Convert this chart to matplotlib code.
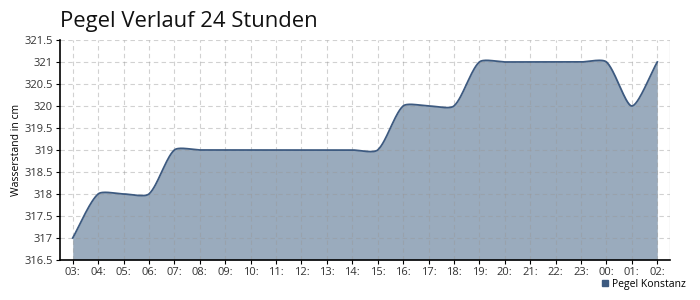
import numpy as np
import matplotlib.pyplot as plt
from matplotlib.lines import Line2D

# hourly water level, 03:00 today to 02:00 next day
hours = ['03:', '04:', '05:', '06:', '07:', '08:', '09:', '10:', '11:', '12:',
         '13:', '14:', '15:', '16:', '17:', '18:', '19:', '20:', '21:', '22:',
         '23:', '00:', '01:', '02:']
pegel = [317, 318, 318, 318, 319, 319, 319, 319, 319, 319,
         319, 319, 319, 320, 320, 320, 321, 321, 321, 321,
         321, 321, 320, 321]

line_color = '#3d5a80'
fill_color = '#9aabbd'

plt.rcParams['font.family'] = ['Open Sans', 'DejaVu Sans']


def spline_path(ax, xv, yv, tension=0.25, steps=30):
    # bezier smoothing, control points computed in pixel space
    pts = ax.transData.transform(np.column_stack([xv, yv]))
    n = len(pts)
    cp_prev = pts.copy()
    cp_next = pts.copy()
    for i in range(n):
        prev = pts[i - 1] if i > 0 else pts[i]
        nxt = pts[i + 1] if i < n - 1 else pts[i]
        d01 = np.hypot(*(pts[i] - prev))
        d12 = np.hypot(*(nxt - pts[i]))
        tot = d01 + d12
        fa = tension * d01 / tot if tot else 0
        fb = tension * d12 / tot if tot else 0
        cp_prev[i] = pts[i] - fa * (nxt - prev)
        cp_next[i] = pts[i] + fb * (nxt - prev)
    t = np.linspace(0, 1, steps, endpoint=False)[:, None]
    out = []
    for i in range(n - 1):
        p0, p1, p2, p3 = pts[i], cp_next[i], cp_prev[i + 1], pts[i + 1]
        out.append((1 - t) ** 3 * p0 + 3 * (1 - t) ** 2 * t * p1 + 3 * (1 - t) * t ** 2 * p2 + t ** 3 * p3)
    out.append(pts[-1:])
    out = ax.transData.inverted().transform(np.vstack(out))
    return out[:, 0], out[:, 1]


x = np.arange(len(hours))

fig = plt.figure(figsize=(7, 3), dpi=100)
ax = fig.add_axes([60 / 700, 40 / 300, 610 / 700, 220 / 300])
ax.set_xlim(-0.5, len(hours) - 0.5)
ax.set_ylim(316.5, 321.5)

xs, ys = spline_path(ax, x, pegel)
ax.fill_between(xs, ys, 316.5, color=fill_color, linewidth=0, zorder=2)
ax.plot(xs, ys, color=line_color, linewidth=1.3, zorder=3)

ax.set_xticks(x)
ax.set_xticklabels(hours)
yt = np.arange(316.5, 321.51, 0.5)
ax.set_yticks(yt)
ax.set_yticklabels(['%g' % v for v in yt])
ax.tick_params(labelsize=8, color='black', length=3, width=0.8, colors='#333333', pad=2)

ax.grid(True, linestyle=(0, (4, 3)), color='#999999', alpha=0.45, linewidth=0.8, zorder=4)
ax.set_axisbelow(False)
for s in ['top', 'right']:
    ax.spines[s].set_visible(False)
ax.axvline(len(hours) - 0.5, color='#dddddd', linewidth=1, zorder=1)
for s in ['left', 'bottom']:
    ax.spines[s].set_linewidth(1.2)
    ax.spines[s].set_zorder(5)

ax.set_ylabel('Wasserstand in cm', fontsize=7.5)
ax.yaxis.set_label_coords(-38 / 610, 0.5)
fig.text(60 / 700, 1 - 22 / 300, 'Pegel Verlauf 24 Stunden', fontsize=15.8,
         va='center', ha='left', color='#111111')

handle = Line2D([], [], marker='s', color='none', markerfacecolor=line_color,
                markeredgecolor=line_color, markersize=5)
fig.legend([handle], ['Pegel Konstanz'], loc='center right', bbox_to_anchor=(690 / 700, 1 - 284 / 300),
           frameon=False, fontsize=7.5, handlelength=0.8, handletextpad=0.3, borderaxespad=0.0)

plt.savefig('out.png', dpi=100)
plt.close()
